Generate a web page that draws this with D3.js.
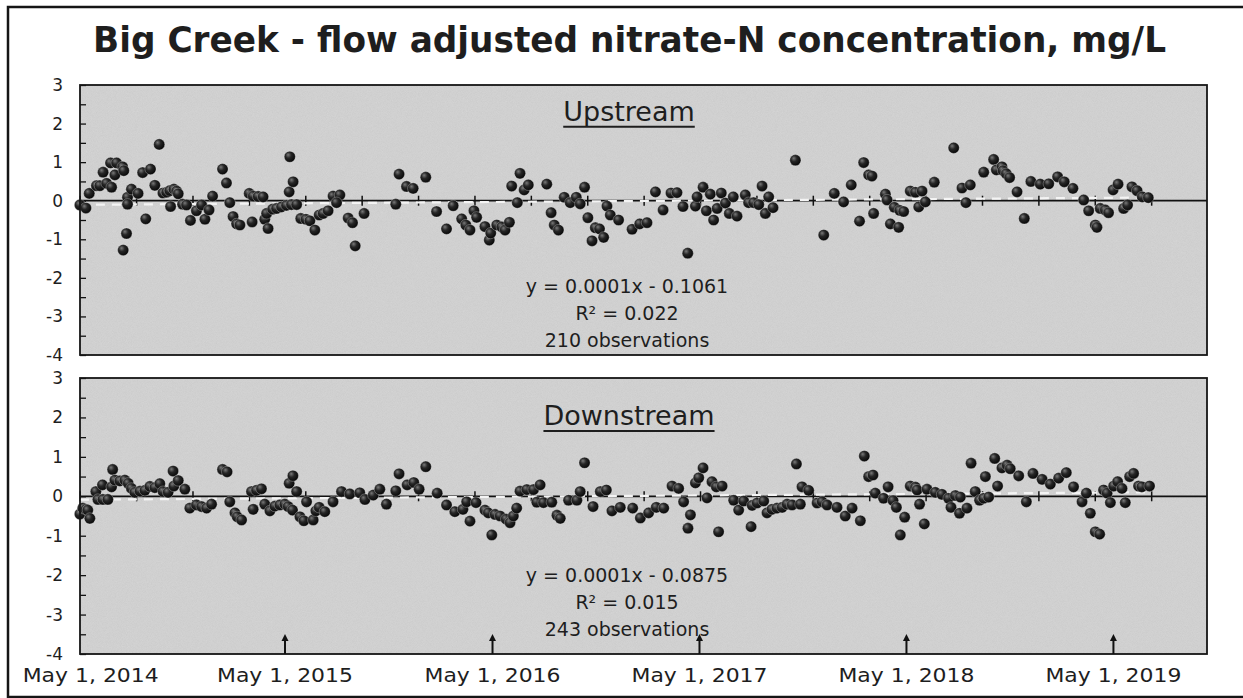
<!DOCTYPE html>
<html><head><meta charset="utf-8">
<script src="https://cdn.jsdelivr.net/npm/d3@7"></script>
<style>
html,body{margin:0;padding:0;background:#fff;}
svg{display:block;}
text{font-family:"DejaVu Sans",Verdana,sans-serif;fill:#1e1e1e;}
</style></head>
<body>
<svg id="chart" width="1243" height="698"></svg>
<script>
// ---------------- DATA (decimal years, mg/L deviations) ----------------
const titleText = "Big Creek - flow adjusted nitrate-N concentration, mg/L";
const panelNames = ["Upstream", "Downstream"];
const equations = ["y = 0.0001x - 0.1061", "y = 0.0001x - 0.0875"];
const rSquared = ["R² = 0.022", "R² = 0.015"];
const observations = ["210 observations", "243 observations"];
const trendSlope = [0.0001, 0.0001];
const trendIntercept = [-0.1061, -0.0875];
const yTicks = [3, 2, 1, 0, -1, -2, -3, -4];
const dateLabels = ["May 1, 2014", "May 1, 2015", "May 1, 2016", "May 1, 2017", "May 1, 2018", "May 1, 2019"];
const labelYears = [2014, 2015, 2016, 2017, 2018, 2019];
const arrowYears = [2015, 2016, 2017, 2018, 2019];

const upDates = [2014.338,2014.367,2014.383,2014.418,2014.434,2014.450,2014.467,2014.486,2014.491,2014.507,
2014.515,2014.544,2014.550,2014.547,2014.563,2014.568,2014.568,2014.587,2014.619,2014.641,
2014.656,2014.679,2014.700,2014.721,2014.739,2014.757,2014.772,2014.792,2014.805,2014.813,
2014.776,2014.834,2014.853,2014.872,2014.901,2014.926,2014.942,2014.962,2014.979,2015.027,
2015.046,2015.062,2015.078,2015.095,2015.111,2015.170,2015.156,2015.175,2015.199,2015.223,
2015.231,2015.240,2015.247,2015.269,2015.288,2015.312,2015.336,2015.360,2015.385,2015.352,
2015.349,2015.368,2015.405,2015.430,2015.449,2015.473,2015.494,2015.513,2015.537,2015.561,
2015.594,2015.578,2015.634,2015.655,2015.668,2015.711,2015.864,2015.880,2015.916,2015.948,
2016.009,2016.061,2016.109,2016.141,2016.182,2016.202,2016.222,2016.241,2016.254,2016.294,
2016.315,2016.322,2016.351,2016.375,2016.391,2016.412,2016.423,2016.450,2016.463,2016.483,
2016.503,2016.592,2016.613,2016.628,2016.648,2016.676,2016.705,2016.734,2016.753,2016.774,
2016.790,2016.810,2016.826,2016.846,2016.866,2016.882,2016.898,2016.938,2017.003,2017.040,
2017.075,2017.116,2017.153,2017.191,2017.220,2017.249,2017.272,2017.309,2017.317,2017.346,
2017.362,2017.381,2017.397,2017.414,2017.434,2017.454,2017.473,2017.492,2017.510,2017.550,
2017.566,2017.590,2017.615,2017.631,2017.647,2017.663,2017.684,2017.792,2017.929,2017.980,
2018.025,2018.062,2018.102,2018.122,2018.146,2018.162,2018.170,2018.227,2018.235,2018.270,
2018.296,2018.315,2018.251,2018.291,2018.347,2018.372,2018.404,2018.388,2018.420,2018.463,
2018.557,2018.597,2018.637,2018.616,2018.702,2018.750,2018.763,2018.790,2018.795,2018.811,
2018.827,2018.863,2018.898,2018.930,2018.975,2019.016,2019.059,2019.091,2019.133,2019.185,
2019.209,2019.241,2019.249,2019.265,2019.289,2019.305,2019.327,2019.351,2019.378,2019.397,
2019.418,2019.443,2019.468,2019.497];
const upValues = [-0.11,-0.19,0.19,0.39,0.39,0.74,0.45,0.98,0.35,0.67,
0.98,0.88,0.78,-1.28,-0.85,0.09,-0.09,0.30,0.19,0.73,
-0.47,0.82,0.40,1.46,0.20,0.22,0.26,0.30,0.25,0.18,
-0.15,-0.09,-0.11,-0.51,-0.26,-0.11,-0.48,-0.24,0.12,0.82,
0.46,-0.05,-0.41,-0.60,-0.63,-0.55,0.19,0.12,0.11,0.10,
-0.48,-0.33,-0.72,-0.22,-0.20,-0.16,-0.12,-0.10,-0.10,1.14,
0.23,0.49,-0.46,-0.48,-0.52,-0.76,-0.37,-0.33,-0.26,0.12,
0.15,-0.05,-0.45,-0.57,-1.17,-0.33,-0.09,0.69,0.37,0.32,
0.61,-0.28,-0.73,-0.13,-0.47,-0.63,-0.76,-0.26,-0.43,-0.67,
-1.02,-0.84,-0.63,-0.68,-0.76,-0.56,0.38,-0.05,0.71,0.28,
0.41,0.43,-0.31,-0.63,-0.76,0.09,-0.05,0.09,-0.08,0.35,
-0.44,-1.04,-0.70,-0.73,-0.95,-0.14,-0.37,-0.50,-0.74,-0.60,
-0.57,0.23,-0.24,0.20,0.21,-0.15,-1.36,-0.14,0.10,0.35,
-0.26,0.17,-0.50,-0.20,0.20,-0.06,-0.33,0.10,-0.40,0.15,
-0.05,-0.05,-0.10,0.38,-0.33,0.10,-0.18,1.05,-0.89,0.19,
-0.03,0.41,-0.53,0.99,0.67,0.64,-0.33,0.17,0.02,-0.17,
-0.25,-0.28,-0.60,-0.69,0.25,0.22,0.25,-0.16,-0.03,0.48,
1.37,0.33,0.41,-0.05,0.74,1.07,0.80,0.88,0.78,0.70,
0.60,0.23,-0.46,0.50,0.43,0.44,0.62,0.49,0.32,0.02,
-0.26,-0.63,-0.69,-0.20,-0.24,-0.31,0.28,0.43,-0.20,-0.11,
0.36,0.26,0.10,0.08];

const downDates = [2014.338,2014.352,2014.367,2014.376,2014.386,2014.415,2014.425,2014.449,2014.473,2014.447,
2014.491,2014.496,2014.507,2014.531,2014.555,2014.571,2014.587,2014.603,2014.628,2014.652,
2014.676,2014.700,2014.724,2014.740,2014.764,2014.788,2014.792,2014.813,2014.845,2014.869,
2014.901,2014.926,2014.950,2014.974,2015.027,2015.049,2015.062,2015.087,2015.098,2015.119,
2015.175,2015.167,2015.191,2015.215,2015.231,2015.256,2015.280,2015.304,2015.328,2015.344,
2015.349,2015.367,2015.365,2015.385,2015.401,2015.420,2015.433,2015.465,2015.478,2015.494,
2015.521,2015.561,2015.602,2015.642,2015.690,2015.715,2015.755,2015.787,2015.819,2015.864,
2015.880,2015.919,2015.951,2015.977,2016.009,2016.064,2016.109,2016.149,2016.188,2016.206,
2016.251,2016.222,2016.294,2016.310,2016.343,2016.367,2016.396,2016.415,2016.431,2016.447,
2016.327,2016.463,2016.496,2016.528,2016.560,2016.544,2016.576,2016.616,2016.641,2016.657,
2016.697,2016.737,2016.753,2016.774,2016.815,2016.850,2016.879,2016.906,2016.946,2017.006,
2017.043,2017.083,2017.120,2017.156,2017.196,2017.228,2017.252,2017.285,2017.273,2017.309,
2017.325,2017.346,2017.365,2017.389,2017.410,2017.438,2017.421,2017.494,2017.518,2017.542,
2017.583,2017.607,2017.639,2017.578,2017.655,2017.679,2017.703,2017.728,2017.752,2017.776,
2017.816,2017.797,2017.824,2017.856,2017.897,2017.921,2017.945,2017.993,2018.033,2018.066,
2018.106,2018.125,2018.146,2018.167,2018.178,2018.218,2018.240,2018.264,2018.280,2018.299,
2018.320,2018.347,2018.372,2018.380,2018.392,2018.415,2018.428,2018.468,2018.500,2018.532,
2018.565,2018.589,2018.544,2018.585,2018.621,2018.641,2018.661,2018.682,2018.702,2018.726,
2018.710,2018.755,2018.769,2018.790,2018.815,2018.830,2018.871,2018.908,2018.940,2018.984,
2019.024,2019.064,2019.101,2019.136,2019.177,2019.198,2019.217,2019.241,2019.262,2019.281,
2019.298,2019.314,2019.330,2019.349,2019.370,2019.386,2019.407,2019.426,2019.450,2019.466,
2019.503];
const downValues = [-0.45,-0.30,-0.33,-0.35,-0.56,0.12,-0.08,-0.08,-0.08,0.29,
0.24,0.68,0.41,0.39,0.41,0.33,0.20,0.10,0.13,0.15,
0.25,0.22,0.32,0.12,0.10,0.64,0.26,0.40,0.18,-0.30,
-0.22,-0.26,-0.30,-0.20,0.68,0.62,-0.14,-0.42,-0.52,-0.60,
-0.33,0.12,0.15,0.19,-0.20,-0.37,-0.25,-0.22,-0.20,-0.26,
0.33,0.52,-0.35,0.12,-0.52,-0.62,-0.14,-0.60,-0.37,-0.28,
-0.39,-0.14,0.12,0.06,0.09,-0.08,0.03,0.18,-0.20,0.14,
0.57,0.29,0.35,0.18,0.75,0.08,-0.22,-0.39,-0.33,-0.14,
-0.16,-0.63,-0.35,-0.42,-0.46,-0.50,-0.58,-0.67,-0.50,-0.30,
-0.98,0.13,0.17,0.17,0.29,-0.15,-0.16,-0.15,-0.48,-0.56,
-0.10,-0.10,0.12,0.85,-0.26,0.12,0.16,-0.37,-0.28,-0.30,
-0.55,-0.42,-0.28,-0.30,0.26,0.20,-0.14,-0.47,-0.81,0.34,
0.47,0.72,-0.04,0.37,0.24,0.26,-0.90,-0.10,-0.35,-0.12,
-0.23,-0.17,-0.12,-0.77,-0.42,-0.33,-0.30,-0.28,-0.20,-0.22,
-0.20,0.82,0.24,0.15,-0.17,-0.14,-0.22,-0.28,-0.50,-0.30,
-0.62,1.02,0.50,0.54,0.08,-0.05,0.24,-0.11,-0.28,-0.98,
-0.53,0.26,0.23,0.16,-0.20,-0.70,0.18,0.10,0.05,-0.05,
0.02,-0.02,-0.28,-0.43,-0.30,0.84,0.12,-0.10,-0.05,-0.02,
0.50,0.96,0.26,0.72,0.79,0.70,0.52,-0.14,0.58,0.43,
0.31,0.46,0.60,0.24,-0.14,0.08,-0.43,-0.90,-0.96,0.16,
0.08,-0.16,0.26,0.37,0.20,-0.16,0.50,0.58,0.26,0.24,
0.26];

// ---------------- LAYOUT ----------------
const plotLeft = 80, plotRight = 1207;
const panels = [
  {top: 85, bottom: 355, titleY: 120.7, eqY: 293, dates: upDates, values: upValues},
  {top: 378, bottom: 654, titleY: 425, eqY: 582, dates: downDates, values: downValues}
];
const centerX = 629;

function decYear(y) {
  const yr = Math.floor(y);
  const s = Date.UTC(yr, 0, 1), e = Date.UTC(yr + 1, 0, 1);
  return new Date(s + (y - yr) * (e - s));
}
const startDate = new Date(Date.UTC(2014, 4, 1));
const endDate = new Date(Date.UTC(2019, 9, 13));
const x = d3.scaleUtc().domain([startDate, endDate]).range([78, plotRight]);

const svg = d3.select("#chart");
const defs = svg.append("defs");
const grad = defs.append("radialGradient").attr("id", "ball").attr("cx", "40%").attr("cy", "40%").attr("r", "60%").attr("fx", "35%").attr("fy", "32%");
grad.append("stop").attr("offset", "0%").attr("stop-color", "#7a7a7a");
grad.append("stop").attr("offset", "45%").attr("stop-color", "#262626");
grad.append("stop").attr("offset", "100%").attr("stop-color", "#080808");

// grain filter for the scanned-gray plot background
const f = defs.append("filter").attr("id", "grain").attr("x", 0).attr("y", 0).attr("width", "100%").attr("height", "100%");
f.append("feTurbulence").attr("type", "fractalNoise").attr("baseFrequency", 1.2).attr("numOctaves", 2).attr("seed", 3).attr("result", "n");
f.append("feColorMatrix").attr("in", "n").attr("type", "matrix")
  .attr("values", "0 0 0 0 0.45  0 0 0 0 0.45  0 0 0 0 0.45  0 0 0 0.35 0").attr("result", "g");
f.append("feComposite").attr("in", "g").attr("in2", "SourceGraphic").attr("operator", "in").attr("result", "gc");
f.append("feMerge").selectAll("feMergeNode").data(["SourceGraphic", "gc"]).join("feMergeNode").attr("in", d => d);

// outer frame
svg.append("rect").attr("x", 8).attr("y", 7).attr("width", 1260).attr("height", 690)
  .attr("fill", "none").attr("stroke", "#151515").attr("stroke-width", 2.5);

// title
svg.append("text").attr("x", 93).attr("y", 51.5)
  .attr("font-size", 36).attr("font-weight", "bold").attr("fill", "#202020")
  .attr("textLength", 1073).attr("lengthAdjust", "spacingAndGlyphs")
  .text(titleText);

const tickDays = 99.45;
const zeroTicks = d3.range(0, 20).map(k => new Date(startDate.getTime() + (3 + k * tickDays) * 864e5));

panels.forEach((p, i) => {
  const y = d3.scaleLinear().domain([-4, 3]).range([p.bottom, p.top]);
  const g = svg.append("g");

  g.append("rect").attr("x", plotLeft).attr("y", p.top).attr("width", plotRight - plotLeft).attr("height", p.bottom - p.top)
    .attr("fill", "#d6d6d6").attr("filter", "url(#grain)");

  // y axis (ticks inside, every 0.5)
  const yAxis = d3.axisLeft(y).tickValues(d3.range(-4, 3.01, 0.5)).tickSize(-6).tickPadding(17)
    .tickFormat(d => Number.isInteger(d) ? String(d) : "");
  const ya = g.append("g").attr("transform", `translate(${plotLeft},0)`).call(yAxis);
  ya.select(".domain").remove();
  ya.selectAll(".tick line").attr("stroke", "#111").attr("stroke-width", 1.3);
  ya.selectAll(".tick text").attr("font-size", 17).attr("font-family", "DejaVu Sans").attr("fill", "#1e1e1e");

  // zero line with crossing ticks
  const y0 = y(0);
  const za = d3.axisBottom(x).tickValues(zeroTicks).tickSize(5).tickFormat("");
  const zb = d3.axisTop(x).tickValues(zeroTicks).tickSize(5).tickFormat("");
  const zg1 = g.append("g").attr("transform", `translate(0,${y0})`).call(za);
  const zg2 = g.append("g").attr("transform", `translate(0,${y0})`).call(zb);
  [zg1, zg2].forEach(z => { z.select(".domain").remove(); z.selectAll("line").attr("stroke", "#111").attr("stroke-width", 1.5); });
  g.append("line").attr("x1", plotLeft).attr("x2", plotRight).attr("y1", y0).attr("y2", y0)
    .attr("stroke", "#111").attr("stroke-width", 1.8);

  // trendline (white dashed)
  const d0 = decYear(p.dates[0]), d1 = decYear(d3.max(p.dates));
  const span = (d1 - d0) / 864e5;
  g.append("line").attr("x1", x(d0)).attr("x2", x(d1))
    .attr("y1", y(trendIntercept[i])).attr("y2", y(trendIntercept[i] + trendSlope[i] * span))
    .attr("stroke", "#f4f4f4").attr("stroke-width", 2.2).attr("stroke-dasharray", "9,7");

  // points
  g.append("g").selectAll("circle").data(p.dates.map((d, k) => ({d: decYear(d), v: p.values[k]})))
    .join("circle")
    .attr("cx", d => x(d.d)).attr("cy", d => y(d.v)).attr("r", 5.6)
    .attr("fill", "url(#ball)").attr("stroke", "#efefef").attr("stroke-opacity", 0.45).attr("stroke-width", 0.7);

  // plot border
  g.append("rect").attr("x", plotLeft).attr("y", p.top).attr("width", plotRight - plotLeft).attr("height", p.bottom - p.top)
    .attr("fill", "none").attr("stroke", "#151515").attr("stroke-width", 1.8);

  // panel title, underlined
  const t = g.append("text").attr("x", centerX).attr("y", p.titleY).attr("text-anchor", "middle")
    .attr("font-size", 27).attr("fill", "#1e1e1e").text(panelNames[i]);
  const tl = t.node().getComputedTextLength();
  g.append("line").attr("x1", centerX - tl / 2).attr("x2", centerX + tl / 2)
    .attr("y1", p.titleY + 6).attr("y2", p.titleY + 6).attr("stroke", "#1e1e1e").attr("stroke-width", 2);

  // statistics
  [equations[i], rSquared[i], observations[i]].forEach((s, k) => {
    g.append("text").attr("x", centerX - 2).attr("y", p.eqY + k * 27).attr("text-anchor", "middle")
      .attr("font-size", 19).attr("fill", "#222").text(s);
  });

  if (i === 1) {
    // arrows at May 1 of each year
    arrowYears.forEach(yr => {
      const ax = x(new Date(Date.UTC(yr, 4, 1)));
      g.append("line").attr("x1", ax).attr("x2", ax).attr("y1", p.bottom).attr("y2", p.bottom - 15)
        .attr("stroke", "#111").attr("stroke-width", 2);
      g.append("path").attr("d", `M${ax - 3.5},${p.bottom - 13}L${ax},${p.bottom - 20}L${ax + 3.5},${p.bottom - 13}Z`)
        .attr("fill", "#111");
    });
    // date labels
    labelYears.forEach((yr, k) => {
      const lw = 136;
      const cx = Math.max(x(new Date(Date.UTC(yr, 4, 1))), 22.7 + lw / 2);
      svg.append("text").attr("x", cx).attr("y", 682).attr("text-anchor", "middle")
        .attr("font-size", 19).attr("textLength", lw).attr("lengthAdjust", "spacingAndGlyphs")
        .attr("fill", "#1a1a1a").text(dateLabels[k]);
    });
  }
});
</script>
</body></html>
